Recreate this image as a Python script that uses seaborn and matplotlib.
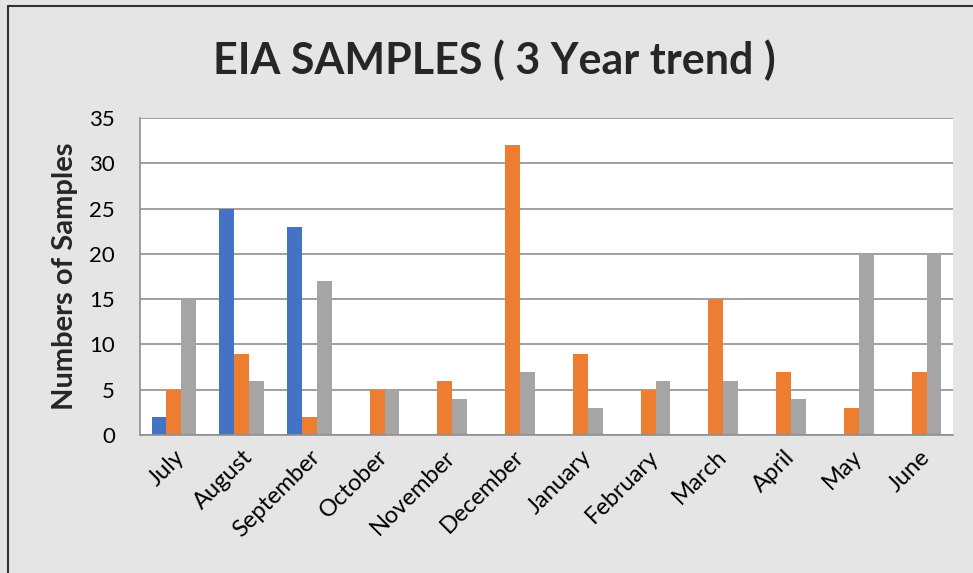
import pandas as pd
import numpy as np
import matplotlib.pyplot as plt
import seaborn as sns
from matplotlib.lines import Line2D

months = ['July', 'August', 'September', 'October', 'November', 'December',
          'January', 'February', 'March', 'April', 'May', 'June']
year1 = [2, 25, 23, 0, 0, 0, 0, 0, 0, 0, 0, 0]
year2 = [5, 9, 2, 5, 6, 32, 9, 5, 15, 7, 3, 7]
year3 = [15, 6, 17, 5, 4, 7, 3, 6, 6, 4, 20, 20]
series_names = ['Year 1', 'Year 2', 'Year 3']
colors = ['#4472C4', '#ED7D31', '#A5A5A5']

df = pd.DataFrame({
    'month': months * 3,
    'series': np.repeat(series_names, len(months)),
    'samples': year1 + year2 + year3,
})

sns.set_style('white')
plt.rcParams['font.family'] = ['Lato', 'DejaVu Sans']

fig = plt.figure(figsize=(9.73, 5.73), dpi=100, facecolor='#e5e5e5')
ax = fig.add_axes([0.1439, 0.2408, 0.8355, 0.5532])
ax.set_facecolor('white')

sns.barplot(data=df, x='month', y='samples', hue='series', order=months,
            hue_order=series_names, palette=colors, width=0.66,
            saturation=1, linewidth=0, legend=False, ax=ax)

ax.set_ylim(0, 35)
ax.set_yticks(range(0, 36, 5))
ax.set_xlim(-0.5, len(months) - 0.5)
ax.yaxis.grid(True, color='#8f8f8f', linewidth=1.2)
ax.set_axisbelow(True)
for side in ['top', 'right']:
    ax.spines[side].set_visible(False)
ax.spines['left'].set_color('#8f8f8f')
ax.spines['bottom'].set_color('#8f8f8f')
ax.spines['left'].set_linewidth(1.2)
ax.spines['bottom'].set_linewidth(1.2)
ax.tick_params(axis='y', length=0, labelsize=16, colors='black', pad=18)
ax.tick_params(axis='x', length=0, labelsize=17, colors='black', pad=8)
plt.setp(ax.get_xticklabels(), rotation=45, ha='right', rotation_mode='anchor')

ax.set_xlabel('')
ax.set_ylabel('Numbers of Samples', fontsize=21, fontweight='bold', labelpad=8)

fig.text(0.508, 0.895, 'EIA SAMPLES ( 3 Year trend )', fontsize=31,
         fontweight='bold', ha='center', va='center')

# thin dark frame on the left and top of the picture
fig.add_artist(Line2D([0.008, 0.008], [0, 0.99], color='#333333', linewidth=1.5))
fig.add_artist(Line2D([0.008, 1.0], [0.99, 0.99], color='#333333', linewidth=1.5))

fig.savefig('out.png', dpi=100, facecolor=fig.get_facecolor())
